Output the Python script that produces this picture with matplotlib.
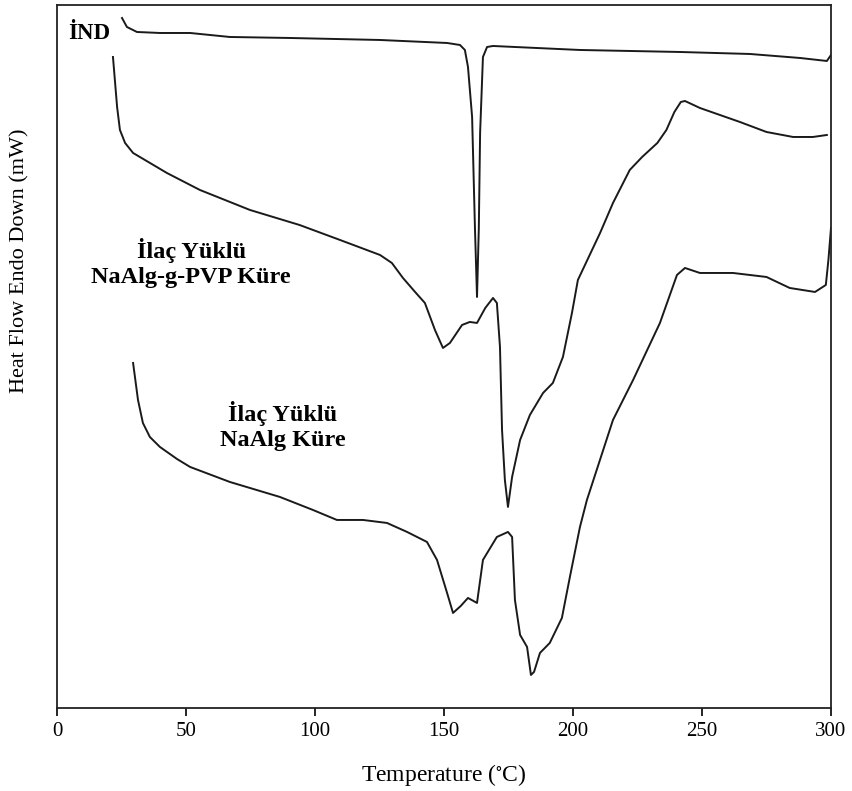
#! /usr/bin/env python3

import matplotlib as mpl
import matplotlib.pyplot as plt

mpl.rcParams.update({'font.size': 12,
                     'font.family': "serif",
                     'font.serif': ["Liberation Serif", "DejaVu Serif"],
                     'mathtext.default': 'regular',
                    })

# heat flow (arbitrary units, endo down)
ind_T = [25.2, 27.1, 31.0, 39.9, 51.6, 67.0, 90.3, 125.2, 151.2, 156.2,
         158.1, 159.3, 160.9, 162.0, 162.8, 163.5, 164.0, 165.1, 166.7,
         169.0, 202.7, 241.5, 268.6, 288.0, 298.4, 300.0]
ind_hf = [690, 681, 676, 675, 675, 671, 670, 668, 665, 663,
          658, 641, 591, 480, 411, 480, 575, 651, 661,
          662, 658, 656, 654, 650, 647, 653]

pvp_T = [21.7, 23.3, 24.4, 26.4, 29.5, 42.6, 55.4, 74.8, 94.0, 109.7,
         125.2, 129.8, 134.1, 138.8, 142.6, 146.5, 149.6, 152.3, 157.0,
         160.0, 162.8, 166.0, 169.0, 170.5, 171.7, 172.5, 173.6, 174.8,
         176.4, 179.5, 183.3, 188.4, 192.2, 196.1, 199.6, 201.9, 210.5,
         215.5, 222.0, 226.8, 232.7, 236.2, 239.3, 241.8, 243.4, 249.2,
         264.7, 275.0, 285.3, 293.0, 298.4]
pvp_hf = [651, 601, 578, 565, 555, 535, 518, 498, 483, 468,
          453, 445, 430, 416, 405, 378, 360, 365, 383,
          386, 385, 400, 410, 405, 361, 278, 228, 201,
          231, 268, 293, 315, 325, 351, 395, 428, 475,
          505, 538, 551, 565, 578, 596, 606, 607, 600,
          586, 576, 571, 571, 573]

alg_T = [29.5, 31.4, 33.3, 36.0, 39.9, 46.5, 51.6, 67.0, 86.4, 99.2,
         108.5, 118.6, 127.9, 135.7, 143.4, 147.3, 151.2, 153.5, 156.5,
         159.3, 162.8, 165.1, 170.5, 174.8, 176.4, 177.5, 179.5, 182.2,
         183.7, 184.9, 187.2, 191.0, 195.7, 198.8, 202.7, 205.4, 215.5,
         223.3, 233.7, 240.3, 243.4, 249.2, 262.0, 275.0, 284.0, 293.8,
         298.0, 299.0, 300.0]
alg_hf = [345, 308, 285, 271, 261, 249, 241, 226, 211, 198,
          188, 188, 185, 176, 166, 148, 115, 95, 102,
          110, 105, 148, 171, 176, 171, 108, 73, 61,
          33, 36, 55, 65, 90, 131, 181, 208, 288,
          328, 385, 433, 440, 435, 435, 431, 420, 416,
          423, 448, 480]

# curve labels
labels = ['İND', 'İlaç Yüklü\nNaAlg-g-PVP Küre', 'İlaç Yüklü\nNaAlg Küre']

fig = plt.figure(figsize=(8.53, 7.91), dpi=100)
ax = fig.add_axes([0.0668, 0.105, 0.9074, 0.8887])

lc = '#1a1a1a'
ax.plot(ind_T, ind_hf, color=lc, lw=1.4)
ax.plot(pvp_T, pvp_hf, color=lc, lw=1.4)
ax.plot(alg_T, alg_hf, color=lc, lw=1.4)

ax.text(4.3, 674, labels[0], fontsize=16.5, fontweight='bold', ha='left', va='center')
ax.text(52, 445, labels[1], fontsize=17.5, fontweight='bold', ha='center',
        va='center', linespacing=1.2)
ax.text(87.6, 282, labels[2], fontsize=17.5, fontweight='bold', ha='center',
        va='center', linespacing=1.2)

ax.set_xlim(0, 300)
ax.set_ylim(0, 703)
ax.set_xticks([0, 50, 100, 150, 200, 250, 300])
ax.set_yticks([])
ax.tick_params(axis='x', direction='out', length=6, width=1.2, labelsize=15, pad=4)
for s in ax.spines.values():
    s.set_linewidth(1.3)
    s.set_color('#222222')

ax.set_xlabel(r'Temperature ($^{\circ}$C)', fontsize=17, labelpad=15)
fig.text(0.023, 0.67, 'Heat Flow Endo Down (mW)', rotation=90, fontsize=16,
         ha='center', va='center')

fig.savefig('out.png', dpi=100)
